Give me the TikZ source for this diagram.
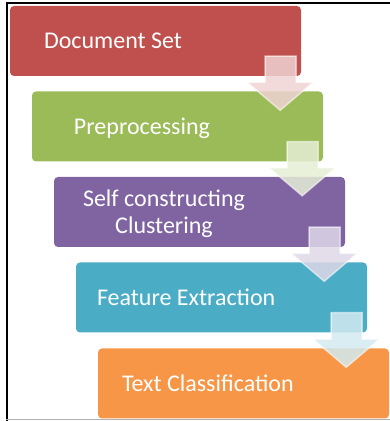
\documentclass[tikz,border=0pt]{standalone}
\usepackage{fontspec}
\setmainfont{Carlito}
\usepackage{tikz}
\usetikzlibrary{calc,positioning}
\definecolor{docred}{RGB}{192,80,77}
\definecolor{prepgreen}{RGB}{155,187,89}
\definecolor{clusterpurple}{RGB}{128,100,162}
\definecolor{featureblue}{RGB}{75,172,198}
\definecolor{classorange}{RGB}{247,150,70}

% block arrow from the lower right of one stage into the next one
\newcommand{\blockarrow}[3]{%
  \filldraw[#3!25, fill opacity=0.85, draw=white, draw opacity=0.55, line width=1.5pt]
    let \p1=(#1.south east), \p2=(#2.north) in
    (\x1-36pt,\y1+20pt) -- (\x1-5pt,\y1+20pt) -- (\x1-5pt,\y2+9pt) --
    (\x1+12pt,\y2+9pt) -- (\x1-21pt,\y2-19pt) -- (\x1-54pt,\y2+9pt) --
    (\x1-36pt,\y2+9pt) -- cycle;
}

\begin{document}
\begin{tikzpicture}[x=1pt, y=1pt,
  stage/.style={rounded corners=4pt, minimum width=291pt, minimum height=70pt, inner sep=0pt},
  stagetext/.style={inner sep=0pt, text=white, text height=15.5pt, text depth=0pt,
    font=\fontsize{24}{27}\selectfont}]
  \useasboundingbox (0,0) rectangle (390,421);
  % frame
  \draw[line width=2pt] (7,0) -- (7,418) -- (390,418);
  \draw[gray!60, line width=1pt] (6,1.5) -- (390,1.5);

  % stages
  \node[stage, fill=docred] (docset) at (155.5,380) {};
  \node[stagetext, right=34pt of docset.west] {Document Set};
  \node[stage, fill=prepgreen] (prep) at (177.5,294.5) {};
  \node[stagetext, right=42pt of prep.west] {Preprocessing};
  \node[stage, fill=clusterpurple] (cluster) at (199.5,209) {};
  \node[inner sep=0pt, text=white, align=center, font=\fontsize{24}{27}\selectfont,
    right=29pt of cluster.west, yshift=-2pt] {Self constructing\\Clustering};
  \node[stage, fill=featureblue] (feature) at (221.5,123.5) {};
  \node[stagetext, right=21pt of feature.west] {Feature Extraction};
  \node[stage, fill=classorange] (classify) at (243.5,37.5) {};
  \node[stagetext, right=24pt of classify.west] {Text Classification};

  \foreach \a/\b/\c in {docset/prep/docred, prep/cluster/prepgreen,
      cluster/feature/clusterpurple, feature/classify/featureblue}{
    \blockarrow{\a}{\b}{\c}
  }
\end{tikzpicture}
\end{document}
